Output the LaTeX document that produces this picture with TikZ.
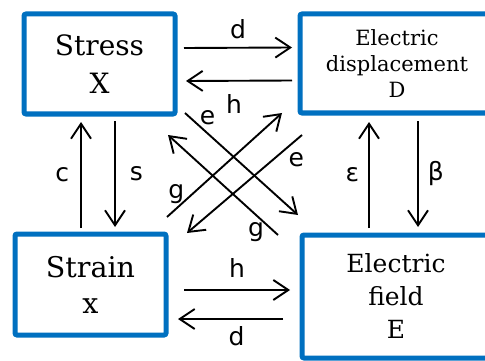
\documentclass[tikz,border=0pt]{standalone}
\usepackage{fontspec}
\setmainfont{DejaVu Serif}
\newfontfamily\labelfont{DejaVu Sans}
\usepackage{xcolor}
\usetikzlibrary{arrows.meta,positioning}

\definecolor{boxblue}{RGB}{0,112,192}

\begin{document}
\begin{tikzpicture}[
    x=1pt, y=-1pt,
    box/.style={draw=boxblue, line width=5pt, rectangle, rounded corners=2pt,
                fill=white, align=center, outer sep=0pt, inner sep=0pt},
    arrow/.style={->, line width=1.9pt},
    lab/.style={font=\labelfont\fontsize{25}{27}\selectfont, inner sep=3pt},
    >={Straight Barb[length=15pt,width=20pt]}
]
\clip (0,0) rectangle (485,361);

\node[box, minimum width=151pt, minimum height=100pt,
      font=\fontsize{28}{38}\selectfont] (stress) at (99.5,64) {Stress\\X};
\node[box, minimum width=194pt, minimum height=99pt,
      font=\fontsize{21}{26}\selectfont] (disp) at (397,63.5)
      {Electric\\displacement\\D};
\node[box, minimum width=151pt, minimum height=101pt,
      font=\fontsize{28.5}{36}\selectfont] (strain) at (90.5,284.5) {Strain\\x};
\node[box, minimum width=188pt, minimum height=123pt,
      font=\fontsize{25}{33}\selectfont] (field) at (396,296.5)
      {Electric\\field\\E};

% horizontal pairs
\draw[arrow] ([xshift=9pt,yshift=16pt]stress.east) -- ([xshift=-8pt,yshift=16pt]disp.west)
    node[lab, midway, above=5pt] (ld1) {d};
\draw[arrow] ([xshift=-8pt,yshift=-17pt]disp.west) -- ([xshift=11pt,yshift=-17pt]stress.east)
    node[lab, midway, below=10pt, xshift=-5pt] (lh1) {h};
\draw[arrow] ([xshift=18pt,yshift=-5.5pt]strain.east) -- ([xshift=-12pt,yshift=6.5pt]field.west)
    node[lab, midway, above=9pt] (lh2) {h};
\draw[arrow] ([xshift=-19pt,yshift=-22.5pt]field.west) -- ([xshift=12pt,yshift=-34.5pt]strain.east)
    node[lab, midway, below=4pt, xshift=6pt] (ld2) {d};

% vertical pairs
\draw[arrow] ([xshift=-9.5pt,yshift=6pt]strain.north) -- ([xshift=-18.5pt,yshift=-8pt]stress.south)
    node[lab, midway, left=8pt] (lc) {c};
\draw[arrow] ([xshift=15.5pt,yshift=-7pt]stress.south) -- ([xshift=24.5pt,yshift=7pt]strain.north)
    node[lab, midway, right=11pt] (ls) {s};
\draw[arrow] ([xshift=-27pt,yshift=7pt]field.north) -- ([xshift=-28pt,yshift=-9pt]disp.south)
    node[lab, midway, left=6pt] (leps) {ε};
\draw[arrow] ([xshift=21pt,yshift=-8pt]disp.south) -- ([xshift=22pt,yshift=8pt]field.north)
    node[lab, midway, right=6pt] (lbeta) {β};

% crossing diagonals
\draw[arrow] ([xshift=10pt,yshift=1pt]stress.south east) -- ([xshift=-4pt,yshift=20pt]field.north west)
    node[lab, pos=0.2, above=5pt] (le1) {e};
\draw[arrow] ([xshift=2pt,yshift=-22pt]disp.south west) -- ([xshift=21pt,yshift=1pt]strain.north east)
    node[lab, pos=0.05, below=9pt] (le2) {e};
\draw[arrow] ([xshift=1pt,yshift=17pt]strain.north east) -- ([xshift=-18pt]disp.south west)
    node[lab, pos=0.08, above=1pt] (lg1) {g};
\draw[arrow] ([xshift=-24pt]field.north west) -- ([xshift=-7pt,yshift=-21pt]stress.south east)
    node[lab, pos=0.2, below=4pt] (lg2) {g};
\end{tikzpicture}
\end{document}
